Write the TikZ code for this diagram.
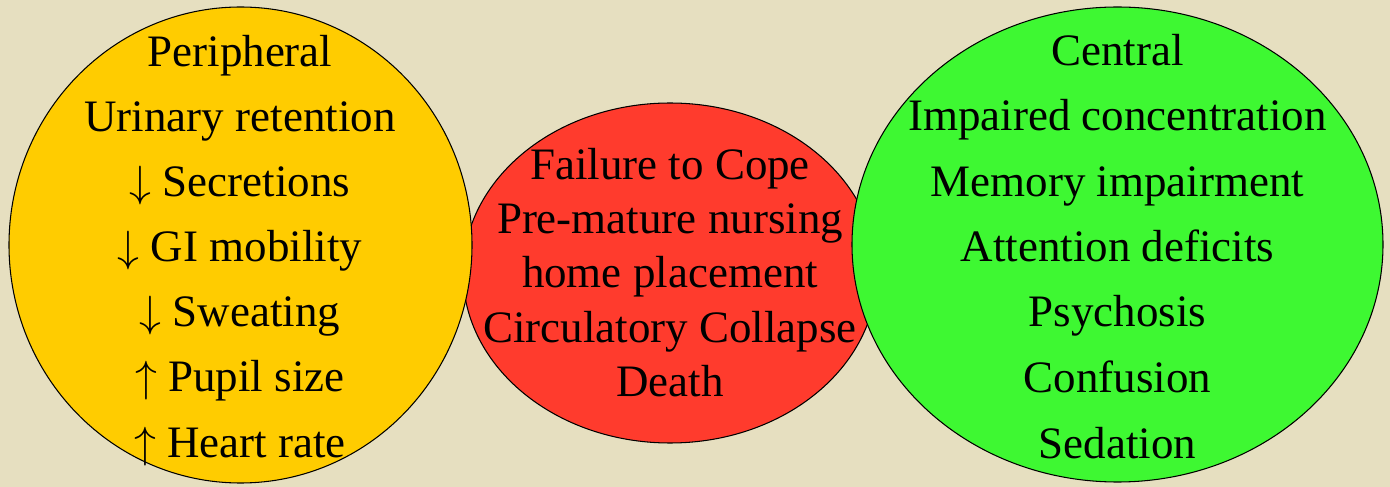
\documentclass[tikz,border=0pt]{standalone}
\usepackage{fontspec}
\setmainfont{Liberation Serif}
\definecolor{acpaper}{RGB}{230,223,192}
\definecolor{acyellow}{RGB}{255,204,0}
\definecolor{acred}{RGB}{255,59,45}
\definecolor{acgreen}{RGB}{62,248,50}

\begin{document}
\begin{tikzpicture}[x=0.02cm,y=0.02cm, %1 unit is one pixel of a 1390 by 487 slide
  blob/.style={draw=black,line width=0.6pt},
  line/.style={font=\fontsize{25.6}{30}\selectfont,anchor=base,inner sep=0pt}]
\fill[acpaper] (0,0) rectangle (1390,487); %Paper background, also sets the size
%Red ellipse first, the two outer circles overlap it
\filldraw[blob,fill=acred] (670,214) ellipse [x radius=207,y radius=170];
\filldraw[blob,fill=acyellow] (240.5,242) ellipse [x radius=231.5,y radius=238];
\filldraw[blob,fill=acgreen] (1117.5,242.5) ellipse [x radius=265.5,y radius=237.5];
%Peripheral effects:
\node[line] (per) at (240,420) {Peripheral};
\node[line] (ur) at (240,355) {Urinary retention};
\node[line] (sec) at (240,290) {$\downarrow$ Secretions};
\node[line] (gi) at (240,225) {$\downarrow$ GI mobility};
\node[line] (swe) at (240,160) {$\downarrow$ Sweating};
\node[line] (pup) at (240,95) {$\uparrow$ Pupil size};
\node[line] (hr) at (240,30) {$\uparrow$ Heart rate};
%Outcomes in the middle:
\node[line] (fail) at (670,307) {Failure to Cope};
\node[line] (prem) at (670,253) {Pre-mature nursing};
\node[line] (home) at (670,199) {home placement};
\node[line] (circ) at (670,144) {Circulatory Collapse};
\node[line] (death) at (670,90) {Death};
%Central effects:
\node[line] (cen) at (1117.5,421) {Central};
\node[line] (imp) at (1117.5,356) {Impaired concentration};
\node[line] (mem) at (1117.5,290) {Memory impairment};
\node[line] (att) at (1117.5,225) {Attention deficits};
\node[line] (psy) at (1117.5,160) {Psychosis};
\node[line] (conf) at (1117.5,94) {Confusion};
\node[line] (sed) at (1117.5,29) {Sedation};
\end{tikzpicture}
\end{document}
